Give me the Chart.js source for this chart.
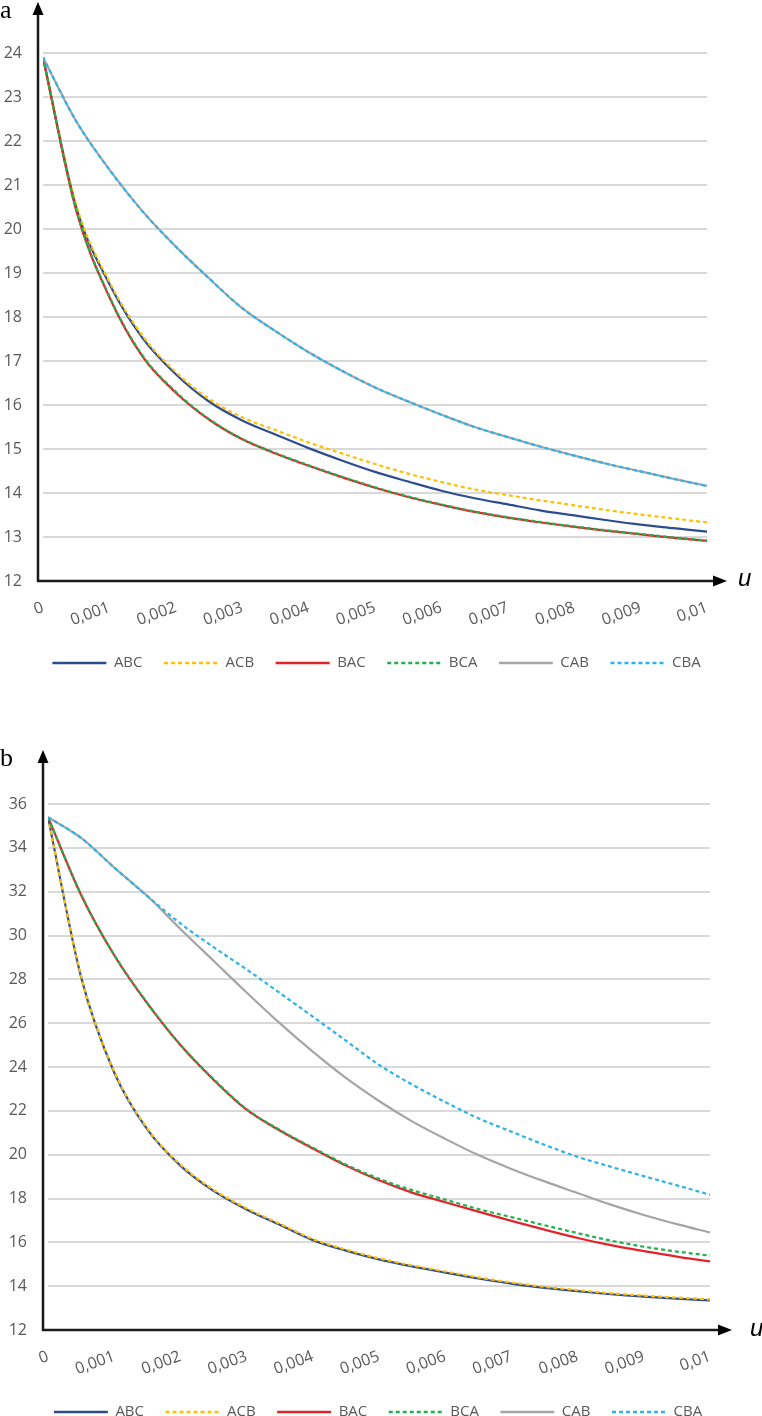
<!DOCTYPE html>
<html>
<head>
<meta charset="utf-8">
<script src="https://cdn.jsdelivr.net/npm/chart.js@4.4.0/dist/chart.umd.min.js"></script>
<style>
html,body{margin:0;padding:0;overflow:hidden;background:#fff;}
body{width:762px;height:1416px;position:relative;}
.box{position:absolute;left:0;width:762px;}
.tag{position:absolute;font-family:"Liberation Serif",serif;font-size:26px;line-height:1;color:#000;}
.ax{position:absolute;font-family:"Liberation Sans",sans-serif;font-style:italic;font-size:24px;line-height:1;color:#000;}
</style>
</head>
<body>
<div class="box" style="top:0;height:690px"><canvas id="chartA"></canvas></div>
<div class="box" style="top:690px;height:740px"><canvas id="chartB"></canvas></div>
<div class="tag" style="left:0;top:-3px">a</div>
<div class="tag" style="left:0;top:745px">b</div>
<div class="ax" style="left:738px;top:566px">u</div>
<div class="ax" style="left:750px;top:1316px">u</div>
<script>
//x values (u) and the tick labels of the x axis
var uValues = [0, 0.0005, 0.001, 0.0015, 0.002, 0.0025, 0.003, 0.0035, 0.004, 0.0045, 0.005,
	0.0055, 0.006, 0.0065, 0.007, 0.0075, 0.008, 0.0085, 0.009, 0.0095, 0.01];
var xTickLabels = ['0', '0,001', '0,002', '0,003', '0,004', '0,005', '0,006', '0,007', '0,008', '0,009', '0,01'];
var seriesNames = ['ABC', 'ACB', 'BAC', 'BCA', 'CAB', 'CBA'];

//chart a
var abcA = [23.9, 20.5, 18.75, 17.52, 16.7, 16.08, 15.65, 15.33, 15.02, 14.74, 14.48, 14.26, 14.05, 13.88, 13.74, 13.6, 13.49, 13.38, 13.28, 13.2, 13.12];
var acbA = [23.9, 20.55, 18.8, 17.57, 16.75, 16.14, 15.72, 15.43, 15.15, 14.9, 14.66, 14.44, 14.25, 14.08, 13.95, 13.83, 13.72, 13.61, 13.51, 13.42, 13.33];
var bacA = [23.9, 20.42, 18.45, 17.1, 16.28, 15.67, 15.22, 14.9, 14.62, 14.36, 14.12, 13.91, 13.73, 13.57, 13.44, 13.33, 13.23, 13.14, 13.06, 12.98, 12.91];
var bcaA = [23.9, 20.44, 18.47, 17.12, 16.3, 15.68, 15.23, 14.91, 14.63, 14.37, 14.13, 13.92, 13.74, 13.58, 13.45, 13.34, 13.24, 13.15, 13.07, 12.99, 12.92];
var cabA = [23.9, 22.45, 21.35, 20.4, 19.6, 18.88, 18.2, 17.68, 17.2, 16.78, 16.4, 16.08, 15.78, 15.5, 15.27, 15.05, 14.85, 14.66, 14.49, 14.32, 14.16];
var cbaA = [23.9, 22.45, 21.35, 20.4, 19.6, 18.88, 18.2, 17.68, 17.2, 16.78, 16.4, 16.08, 15.78, 15.5, 15.27, 15.05, 14.85, 14.66, 14.49, 14.32, 14.16];

//chart b
var abcB = [35.4, 28.1, 23.75, 21.15, 19.5, 18.35, 17.5, 16.8, 16.1, 15.62, 15.22, 14.9, 14.62, 14.35, 14.12, 13.92, 13.77, 13.63, 13.52, 13.43, 13.35];
var acbB = [35.4, 28.15, 23.8, 21.2, 19.55, 18.4, 17.55, 16.85, 16.15, 15.67, 15.27, 14.95, 14.67, 14.4, 14.17, 13.97, 13.82, 13.68, 13.57, 13.48, 13.4];
var bacB = [35.4, 31.85, 29.1, 26.9, 25.0, 23.42, 22.05, 21.1, 20.28, 19.5, 18.83, 18.27, 17.83, 17.4, 16.98, 16.58, 16.2, 15.87, 15.6, 15.35, 15.13];
var bcaB = [35.4, 31.87, 29.12, 26.92, 25.02, 23.45, 22.08, 21.13, 20.32, 19.55, 18.9, 18.38, 17.95, 17.52, 17.15, 16.78, 16.42, 16.08, 15.8, 15.58, 15.39];
var cabB = [35.4, 34.45, 33.1, 31.8, 30.3, 28.85, 27.4, 26.0, 24.7, 23.5, 22.45, 21.52, 20.72, 19.98, 19.35, 18.78, 18.25, 17.72, 17.25, 16.83, 16.45];
var cbaB = [35.4, 34.45, 33.1, 31.8, 30.55, 29.47, 28.45, 27.38, 26.3, 25.2, 24.1, 23.2, 22.4, 21.66, 21.05, 20.45, 19.9, 19.45, 19.02, 18.6, 18.17];

//line look of each series, same order as seriesNames
var lineColors = ['#2E4D8F', '#FFC000', '#E3232B', '#21B04B', '#A5A5A5', '#2BB3EA'];
var lineDashes = [[], [4, 3], [], [4, 3], [], [4, 3]];
var tickGray = '#595959';

//turn the arrays into xy points
function toPoints(vals) {
	return vals.map(function(v, i) {return {x: uValues[i], y: v};});}

function buildSets(list) {
	return list.map(function(vals, i) {
		return {
			label: seriesNames[i], data: toPoints(vals),
			borderColor: lineColors[i], backgroundColor: lineColors[i],
			borderDash: lineDashes[i], borderWidth: 2.2, pointRadius: 0,
			cubicInterpolationMode: 'monotone', fill: false,
			order: list.length - i };});}

//legend items keep the dash of their line
function legendItems(chart) {
	var items = Chart.defaults.plugins.legend.labels.generateLabels(chart);
	items.forEach(function(it) {
		var ds = chart.data.datasets[it.datasetIndex];
		it.lineDash = ds.borderDash; it.lineWidth = 2.4; it.strokeStyle = ds.borderColor;});
	return items;}

//black axes with arrow heads, drawn around the chart area; also nudges the legend row
var axisArrows = {
	id: 'axisArrows',
	afterLayout: function(chart, args, o) {
		if (chart.legend) {chart.legend.left += o.legendShift; chart.legend.right += o.legendShift;}},
	afterDraw: function(chart, args, o) {
		var c = chart.ctx, a = chart.chartArea;
		var x0 = a.left - 5, y0 = a.bottom;
		c.save();
		c.strokeStyle = '#1a1a1a'; c.fillStyle = '#000'; c.lineWidth = 2.5;
		c.beginPath(); c.moveTo(x0, y0 + 1); c.lineTo(x0, o.top + 10); c.stroke();
		c.beginPath(); c.moveTo(x0 - 1, y0); c.lineTo(o.right - 10, y0); c.stroke();
		c.beginPath(); c.moveTo(x0, o.top); c.lineTo(x0 - 5.5, o.top + 13); c.lineTo(x0 + 5.5, o.top + 13); c.closePath(); c.fill();
		c.beginPath(); c.moveTo(o.right, y0); c.lineTo(o.right - 14, y0 - 5.5); c.lineTo(o.right - 14, y0 + 5.5); c.closePath(); c.fill();
		c.restore();}};

function makeChart(id, sets, yMin, yMax, yStep, leftW, pad, arrows) {
	var ctx = document.getElementById(id).getContext('2d');
	return new Chart(ctx, {
		type: 'line',
		data: {datasets: buildSets(sets)},
		plugins: [axisArrows],
		options: {
			responsive: true, maintainAspectRatio: false, animation: false,
			layout: {padding: pad},
			plugins: {
				axisArrows: arrows,
				tooltip: {enabled: false},
				legend: {
					position: 'bottom',
					labels: {
						usePointStyle: true, pointStyle: 'line', pointStyleWidth: 54,
						padding: 21.5, color: tickGray,
						font: {family: 'Open Sans', size: 15},
						generateLabels: legendItems,
						sort: function(a, b) {return a.datasetIndex - b.datasetIndex;}}}},
			scales: {
				x: {
					type: 'linear', min: 0, max: 0.01,
					grid: {display: false, drawTicks: false}, border: {display: false},
					ticks: {
						stepSize: 0.001, autoSkip: false, minRotation: 20, maxRotation: 20,
						padding: 17, color: tickGray, font: {family: 'Open Sans', size: 16},
						callback: function(v, i) {return xTickLabels[i];}},
					afterFit: function(s) {s.height = 53;}},
				y: {
					min: yMin, max: yMax,
					grid: {color: '#d9d9d9', lineWidth: 2, drawTicks: false}, border: {display: false},
					ticks: {stepSize: yStep, padding: 21, color: tickGray, font: {family: 'Open Sans', size: 16}},
					afterFit: function(s) {s.width = leftW;}}}}});}

var chartA = makeChart('chartA', [abcA, acbA, bacA, bcaA, cabA, cbaA], 12, 24, 1, 43,
	{top: 53, right: 55, left: 0, bottom: 9.5}, {top: 2, right: 727, legendShift: 23});
var chartB = makeChart('chartB', [abcB, acbB, bacB, bcaB, cabB, cbaB], 12, 36, 2, 48,
	{top: 114, right: 52, left: 0, bottom: 0.5}, {top: 60, right: 732, legendShift: 23});
</script>
</body>
</html>
